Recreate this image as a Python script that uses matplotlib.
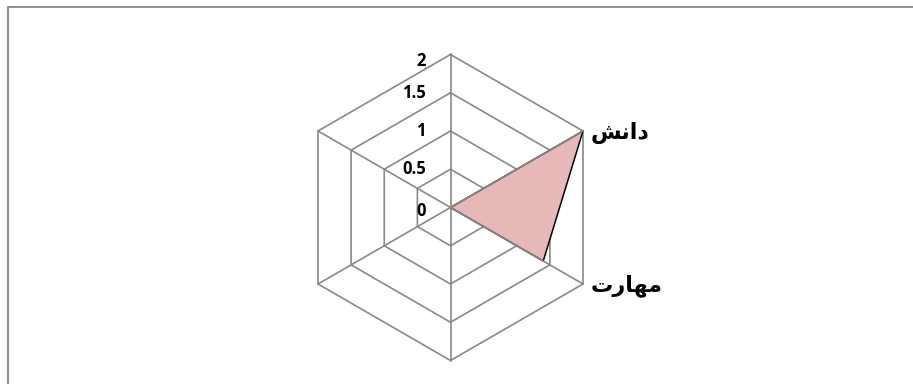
import matplotlib.pyplot as plt
import numpy as np
from matplotlib.patches import Rectangle

# six spokes, only two of them carry a name
categories = ["", "دانش", "مهارت", "", "", ""]
values = [0, 2, 1.4, 0, 0, 0]
ring_levels = [0.5, 1, 1.5, 2]
tick_labels = ["0", "0.5", "1", "1.5", "2"]
tick_values = [0, 0.5, 1, 1.5, 2]

# matplotlib has no arabic shaping, so map letters to presentation forms
FORMS = {  # isolated, final, initial, medial
    "د": ("\uFEA9", "\uFEAA", None, None),
    "ا": ("\uFE8D", "\uFE8E", None, None),
    "ر": ("\uFEAD", "\uFEAE", None, None),
    "ن": ("\uFEE5", "\uFEE6", "\uFEE7", "\uFEE8"),
    "ش": ("\uFEB5", "\uFEB6", "\uFEB7", "\uFEB8"),
    "م": ("\uFEE1", "\uFEE2", "\uFEE3", "\uFEE4"),
    "ه": ("\uFEE9", "\uFEEA", "\uFEEB", "\uFEEC"),
    "ت": ("\uFE95", "\uFE96", "\uFE97", "\uFE98"),
}


def shape(word):
    out = []
    for i, ch in enumerate(word):
        prev_joins = i > 0 and FORMS[word[i - 1]][2] is not None
        next_joins = i < len(word) - 1 and FORMS[ch][2] is not None
        iso, fin, ini, med = FORMS[ch]
        if prev_joins and next_joins:
            out.append(med)
        elif prev_joins:
            out.append(fin)
        elif next_joins:
            out.append(ini)
        else:
            out.append(iso)
    return "".join(reversed(out))


n = len(categories)
theta = np.arange(n) * 2 * np.pi / n
dx, dy = np.sin(theta), np.cos(theta)

fig = plt.figure(figsize=(9.13, 3.84), dpi=100)
ax = fig.add_axes([0, 0, 1, 1])
scale = 2 / 153  # data units per pixel
cx, cy = 450.5, 384 - 207.5
ax.set_xlim(-cx * scale, (913 - cx) * scale)
ax.set_ylim(-cy * scale, (384 - cy) * scale)
ax.axis("off")

grey = "#898989"
for r in ring_levels:
    ax.plot(np.append(dx, dx[0]) * r, np.append(dy, dy[0]) * r,
            color=grey, lw=1.2, zorder=1)

v = np.array(values)
ax.fill(dx * v, dy * v, color="#E6B9B8", lw=0, zorder=2)
ax.plot(np.append(dx * v, dx[0] * v[0]), np.append(dy * v, dy[0] * v[0]),
        color="black", lw=1.1, zorder=3)

rmax = max(ring_levels)
for i in range(n):
    ax.plot([0, dx[i] * rmax], [0, dy[i] * rmax], color=grey, lw=1.2, zorder=4)

for t, lab in zip(tick_values, tick_labels):
    yy = min(t, rmax - 0.08) - 0.05 * (t == 0)
    ax.text(-0.32, yy, lab, ha="right", va="center", fontsize=12,
            fontweight="bold", family="Open Sans")

for i, cat in enumerate(categories):
    if cat:
        ax.text(dx[i] * rmax + 0.1, dy[i] * rmax - 0.02, shape(cat), ha="left",
                va="center", fontsize=16, fontweight="bold", family="DejaVu Sans")

fig.add_artist(Rectangle((7.5 / 913, -0.1), 1.2, 1.1 - 7.5 / 384,
                         transform=fig.transFigure, fill=False,
                         edgecolor="#878787", lw=1.3))

plt.savefig("out.png", dpi=100)
